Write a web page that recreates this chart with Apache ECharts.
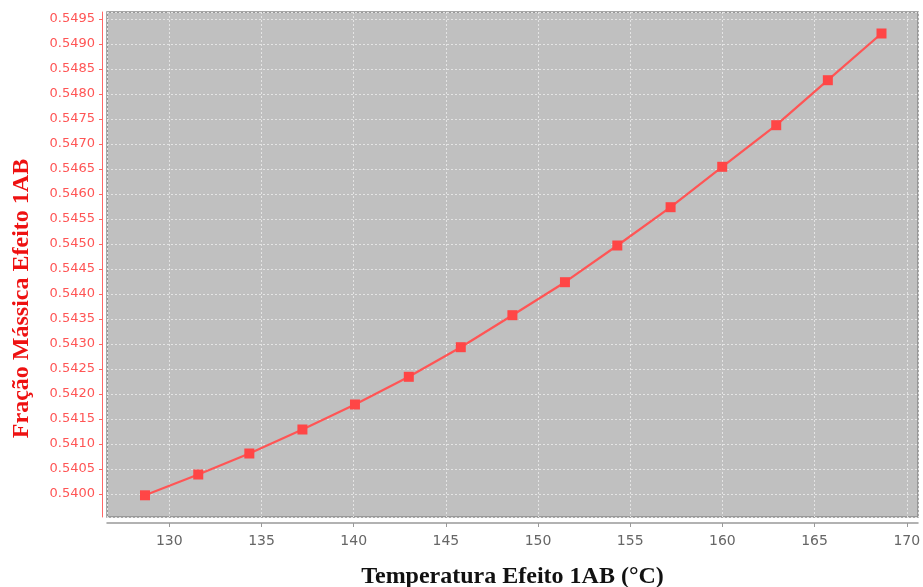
<!DOCTYPE html>
<html>
<head>
<meta charset="utf-8">
<script src="https://cdn.jsdelivr.net/npm/echarts@6/dist/echarts.min.js"></script>
<style>
html,body{margin:0;padding:0;background:#fff;}
#chart{width:923px;height:587px;}
</style>
</head>
<body>
<div id="chart"></div>
<script>
// Data
const temperatures = [128.68, 131.57, 134.34, 137.22, 140.07, 142.99, 145.81, 148.61, 151.46, 154.30, 157.19, 159.99, 162.92, 165.72, 168.63];
const massFractions = [0.53997, 0.540386, 0.540806, 0.541286, 0.541786, 0.54234, 0.542932, 0.543572, 0.544232, 0.544966, 0.545732, 0.54654, 0.547372, 0.548272, 0.549206];
const xTitle = 'Temperatura Efeito 1AB (°C)';
const yTitle = 'Fração Mássica Efeito 1AB';

const points = temperatures.map((t, i) => [t, massFractions[i]]);

const chart = echarts.init(document.getElementById('chart'), null, {renderer: 'canvas'});
chart.setOption({
  animation: false,
  backgroundColor: '#ffffff',
  grid: {
    left: 107, right: 5, top: 12, bottom: 70,
    outerBoundsMode: 'none',
    containLabel: false,
    show: true,
    backgroundColor: '#c0c0c0',
    borderColor: '#8a8a8a',
    borderWidth: 1.5
  },
  xAxis: {
    type: 'value',
    min: 126.62, max: 170.61,
    minInterval: 5, maxInterval: 5, splitNumber: 9,
    offset: 6,
    name: xTitle,
    nameLocation: 'middle',
    nameGap: 42,
    nameMoveOverlap: false,
    nameTextStyle: {fontFamily: 'Liberation Serif', fontWeight: 'bold', fontSize: 24, color: '#111'},
    axisLine: {show: true, lineStyle: {color: '#999', width: 1.5}},
    axisTick: {show: true, length: 4, lineStyle: {color: '#999'}},
    axisLabel: {
      color: '#666', fontFamily: 'DejaVu Sans', fontSize: 14, margin: 11,
      showMinLabel: false, showMaxLabel: false,
      formatter: v => (Math.abs(v / 5 - Math.round(v / 5)) < 1e-6 ? String(Math.round(v)) : '')
    },
    splitLine: {show: true, lineStyle: {color: '#e4e4e4', type: [2, 2], width: 1}}
  },
  yAxis: {
    type: 'value',
    min: 0.539536, max: 0.549636,
    minInterval: 0.0005, maxInterval: 0.0005, splitNumber: 20,
    offset: 5,
    name: yTitle,
    nameLocation: 'middle',
    nameGap: 68,
    nameMoveOverlap: false,
    nameTextStyle: {fontFamily: 'Liberation Serif', fontWeight: 'bold', fontSize: 24, color: '#ee1111', padding: [0, 68, 0, 0]},
    axisLine: {show: true, lineStyle: {color: '#ff6666', width: 1}},
    axisTick: {show: true, length: 3, lineStyle: {color: '#ff6666'}},
    axisLabel: {
      color: '#ff5555', fontFamily: 'DejaVu Sans', fontSize: 13, margin: 7,
      showMinLabel: false, showMaxLabel: false,
      formatter: v => {
        const k = v / 0.0005;
        return Math.abs(k - Math.round(k)) < 1e-4 ? v.toFixed(4) : '';
      }
    },
    splitLine: {show: true, lineStyle: {color: '#e4e4e4', type: [2, 2], width: 1}}
  },
  series: [{
    type: 'line',
    data: points,
    symbol: 'rect',
    symbolSize: 10,
    itemStyle: {color: '#ff4646'},
    lineStyle: {color: '#ff5555', width: 2.2}
  }]
});
</script>
</body>
</html>
